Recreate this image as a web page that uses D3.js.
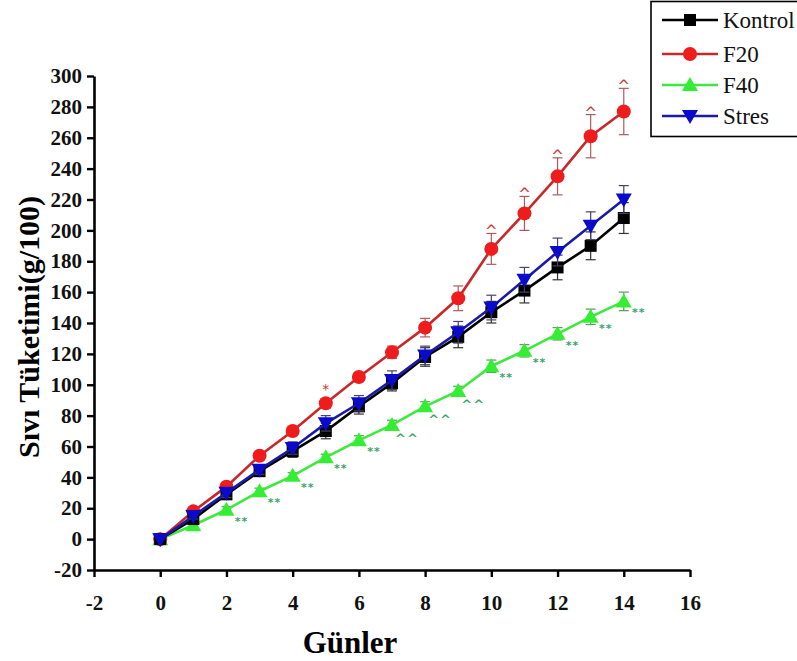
<!DOCTYPE html>
<html>
<head>
<meta charset="utf-8">
<script src="https://cdn.jsdelivr.net/npm/d3@7"></script>
<style>
  body { margin: 0; background: #fff; }
  svg { display: block; }
</style>
</head>
<body>
<div id="chart"></div>
<script>
// data
const days = [0, 1, 2, 3, 4, 5, 6, 7, 8, 9, 10, 11, 12, 13, 14];
const kontrol = [0, 13, 29, 44, 57, 70, 86, 101, 118, 131, 147, 161, 176, 190, 208];
const f20 = [0, 18, 34, 54, 70, 88, 105, 121, 137, 156, 188, 211, 235, 261, 277];
const f40 = [0, 9, 19, 31, 41, 53, 64, 74, 86, 96, 112, 122, 133, 144, 154];
const stres = [0, 15, 30, 45, 59, 75, 88, 103, 119, 134, 150, 168, 186, 203, 220];

const kontrolErr = [0, 2, 3, 3, 4, 5, 5, 5, 6, 7, 7, 8, 8, 9, 10];
const f20Err = [0, 2, 2, 2, 3, 3, 3, 4, 6, 8, 10, 11, 12, 14, 15];
const f40Err = [0, 1, 2, 2, 2, 2, 3, 3, 3, 3, 4, 4, 4, 5, 6];
const stresErr = [0, 2, 3, 3, 4, 5, 5, 6, 6, 7, 8, 8, 9, 9, 9];

const f20Sig = ["", "", "", "", "", "*", "", "", "", "", "^", "^", "^", "^", "^"];
const f40Sig = ["", "", "**", "**", "**", "**", "**", "^^", "^^", "^^", "**", "**", "**", "**", "**"];

const xTicks = [-2, 0, 2, 4, 6, 8, 10, 12, 14, 16];
const yTicks = [-20, 0, 20, 40, 60, 80, 100, 120, 140, 160, 180, 200, 220, 240, 260, 280, 300];

const series = [
    { name: 'Kontrol', values: kontrol, err: kontrolErr, color: '#000000', bar: '#333', shape: 'square' },
    { name: 'F20', values: f20, err: f20Err, color: '#c8282a', fill: '#ee1c1c', bar: '#b25a5a', shape: 'circle' },
    { name: 'F40', values: f40, err: f40Err, color: '#3ee83e', fill: '#33ee33', bar: '#5a9a5a', shape: 'up' },
    { name: 'Stres', values: stres, err: stresErr, color: '#1a1aa8', fill: '#0a0acc', bar: '#444466', shape: 'down' }
];

const serif = '"Liberation Serif", "Times New Roman", serif';
const width = 797, height = 661;
const svg = d3.select('#chart').append('svg')
    .attr('width', width)
    .attr('height', height)
    .attr('font-family', serif);

const x = d3.scaleLinear().domain([-2, 16]).range([94, 690]);
const y = d3.scaleLinear().domain([-20, 300]).range([570, 76]);

// axes
const xAxis = svg.append('g')
    .attr('transform', `translate(0,${y(-20)})`)
    .call(d3.axisBottom(x).tickValues(xTicks).tickFormat(d => String(d)).tickSize(7).tickSizeOuter(0).tickPadding(18));
const yAxis = svg.append('g')
    .attr('transform', `translate(${x(-2)},0)`)
    .call(d3.axisLeft(y).tickValues(yTicks).tickFormat(d => String(d)).tickSize(7).tickSizeOuter(0).tickPadding(5));

[xAxis, yAxis].forEach(a => {
    a.attr('font-family', serif).attr('font-size', null);
    a.select('.domain').attr('stroke', '#000').attr('stroke-width', 2.6);
    a.selectAll('.tick line').attr('stroke', '#000').attr('stroke-width', 2.4);
    a.selectAll('.tick text')
        .attr('fill', '#111')
        .attr('font-family', serif)
        .attr('font-weight', 'bold')
        .attr('font-size', 21);
});

// axis titles
svg.append('text')
    .attr('x', 350).attr('y', 653)
    .attr('text-anchor', 'middle')
    .attr('font-family', serif)
    .attr('font-weight', 'bold')
    .attr('font-size', 31)
    .text('Günler');

svg.append('text')
    .attr('transform', 'translate(39,327) rotate(-90)')
    .attr('text-anchor', 'middle')
    .attr('font-family', serif)
    .attr('font-weight', 'bold')
    .attr('font-size', 30)
    .text('Sıvı Tüketimi(g/100)');

function drawMarker(g, shape, fill, cx, cy) {
    if (shape === 'square') {
        g.append('rect').attr('x', cx - 6).attr('y', cy - 6).attr('width', 12).attr('height', 12).attr('fill', fill);
    } else if (shape === 'circle') {
        g.append('circle').attr('cx', cx).attr('cy', cy).attr('r', 7).attr('fill', fill);
    } else if (shape === 'up') {
        g.append('path').attr('d', `M${cx},${cy - 8}L${cx + 8},${cy + 6}L${cx - 8},${cy + 6}Z`).attr('fill', fill);
    } else {
        g.append('path').attr('d', `M${cx},${cy + 8}L${cx + 8},${cy - 6}L${cx - 8},${cy - 6}Z`).attr('fill', fill);
    }
}

const line = d3.line().x((d, i) => x(days[i])).y(d => y(d));

// draw order: F40 under, then F20, Kontrol, Stres
const order = ['F40', 'F20', 'Kontrol', 'Stres'];
order.forEach(name => {
    const s = series.find(d => d.name === name);
    const g = svg.append('g');

    // error bars
    days.forEach((day, i) => {
        if (!s.err[i]) return;
        const cx = x(day), y1 = y(s.values[i] + s.err[i]), y2 = y(s.values[i] - s.err[i]);
        g.append('line').attr('x1', cx).attr('x2', cx).attr('y1', y1).attr('y2', y2)
            .attr('stroke', s.bar).attr('stroke-width', 1.2);
        [y1, y2].forEach(yy => g.append('line')
            .attr('x1', cx - 5).attr('x2', cx + 5).attr('y1', yy).attr('y2', yy)
            .attr('stroke', s.bar).attr('stroke-width', 1.2));
    });

    g.append('path')
        .datum(s.values)
        .attr('d', line)
        .attr('fill', 'none')
        .attr('stroke', s.color)
        .attr('stroke-width', 2.6);

    days.forEach((day, i) => drawMarker(g, s.shape, s.fill || s.color, x(day), y(s.values[i])));
});

// significance marks
days.forEach((day, i) => {
    if (f20Sig[i]) {
        svg.append('text')
            .attr('x', x(day))
            .attr('y', y(f20[i] + f20Err[i]) - 5 + (f20Sig[i] === '^' ? 8 : 0))
            .attr('text-anchor', 'middle')
            .attr('fill', '#cc3333')
            .attr('font-family', '"DejaVu Sans", sans-serif')
            .attr('font-size', f20Sig[i] === '^' ? 15 : 14)
            .text(f20Sig[i]);
    }
    if (f40Sig[i]) {
        svg.append('text')
            .attr('x', x(day) + 15)
            .attr('y', y(f40[i]) + (f40Sig[i] === '^^' ? 18 : 15))
            .attr('text-anchor', 'middle')
            .attr('fill', '#3aa46a')
            .attr('font-family', '"DejaVu Sans", sans-serif')
            .attr('font-weight', 'bold')
            .attr('font-size', f40Sig[i] === '^^' ? 13 : 11)
            .attr('letter-spacing', 1)
            .text(f40Sig[i]);
    }
});

// legend
const legend = svg.append('g');
legend.append('rect')
    .attr('x', 651).attr('y', 1.5).attr('width', 160).attr('height', 135)
    .attr('fill', '#fff').attr('stroke', '#000').attr('stroke-width', 1.6);
const legendY = [20, 54, 85, 116];
series.forEach((s, i) => {
    const ly = legendY[i];
    legend.append('line')
        .attr('x1', 662).attr('x2', 718).attr('y1', ly).attr('y2', ly)
        .attr('stroke', s.color).attr('stroke-width', 2.6);
    drawMarker(legend, s.shape, s.fill || s.color, 690, ly);
    legend.append('text')
        .attr('x', 723).attr('y', ly + 8)
        .attr('font-family', serif)
        .attr('font-size', 23)
        .attr('fill', '#111')
        .text(s.name);
});
</script>
</body>
</html>
